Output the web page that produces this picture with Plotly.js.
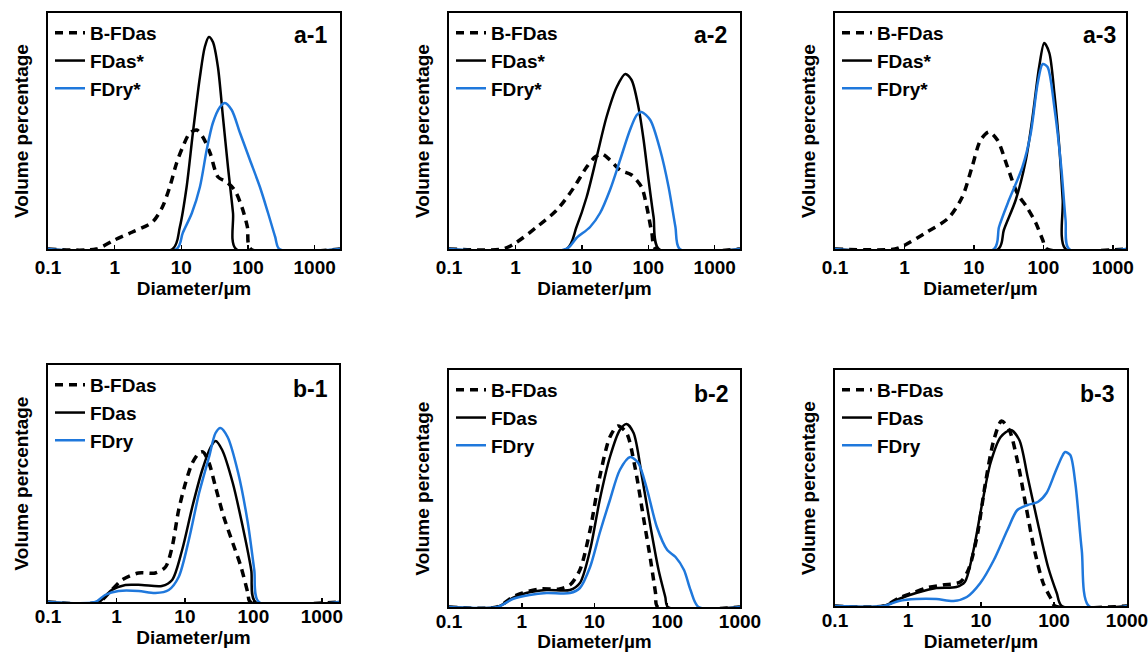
<!DOCTYPE html>
<html><head><meta charset="utf-8">
<script src="https://cdn.plot.ly/plotly-3.0.1.min.js"></script>
<style>html,body{margin:0;padding:0;background:#fff;} #chart{width:1148px;height:652px;}</style>
</head><body><div id="chart"></div>
<script>
// ---------- labels ----------
const namesA = ['B-FDas', 'FDas*', 'FDry*'];
const namesB = ['B-FDas', 'FDas', 'FDry'];
const panelLabels = ['a-1', 'a-2', 'a-3', 'b-1', 'b-2', 'b-3'];
const tickVals = [0.1, 1, 10, 100, 1000];
const tickText = ['0.1', '1', '10', '100', '1000'];
const xTitle = 'Diameter/\u00b5m';
const yTitle = 'Volume percentage';

// ---------- a-1 ----------
const a1_BFDas_d = [0.1, 0.53, 0.99, 1.85, 3.7, 5.2, 6.7, 8.5, 10.5, 13.4, 17, 21, 27, 35.5, 48, 63, 81, 98, 110, 2400];
const a1_BFDas_v = [0, 0, 0.45, 0.85, 1.35, 2.1, 3.1, 4.3, 5.1, 5.8, 5.95, 5.6, 4.8, 3.6, 3.35, 2.95, 2.1, 1.1, 0, 0];
const a1_FDas_d = [0.1, 7.4, 9.5, 12.0, 14.9, 19.0, 22.5, 25.9, 29.8, 35.4, 42.1, 50.1, 59.6, 66.1, 2400];
const a1_FDas_v = [0, 0, 1.1, 3.1, 5.8, 8.6, 10.1, 10.6, 10.35, 9.1, 6.6, 4.1, 1.8, 0, 0];
const a1_FDry_d = [0.1, 8.5, 10.5, 14.4, 19, 24, 29.7, 38, 45, 57, 76, 107, 151, 200, 256, 295, 2400];
const a1_FDry_v = [0, 0, 0.8, 1.8, 3.1, 4.95, 6.3, 7.1, 7.3, 6.95, 5.8, 4.45, 3.1, 1.8, 0.6, 0, 0];

// ---------- a-2 ----------
const a2_BFDas_d = [0.1, 0.64, 1.0, 2.1, 4.2, 7.5, 11.8, 15.8, 20, 26.5, 37.6, 56, 79, 95, 113, 130, 2400];
const a2_BFDas_v = [0, 0, 0.3, 1.1, 1.95, 3.05, 4.1, 4.6, 4.75, 4.45, 3.95, 3.7, 3.1, 2.1, 0.8, 0, 0];
const a2_FDas_d = [0.1, 5.9, 8.3, 11.8, 16.7, 23.5, 33.5, 45, 56, 71, 85, 101, 120, 144, 2400];
const a2_FDas_v = [0, 0, 1.1, 2.6, 4.6, 6.6, 8.1, 8.75, 8.45, 7.1, 5.45, 3.45, 1.6, 0, 0];
const a2_FDry_d = [0.1, 5.8, 8.3, 13.3, 18.8, 26.5, 37.6, 53, 67, 79, 107, 151, 202, 256, 297, 2400];
const a2_FDry_v = [0, 0, 0.55, 1.1, 1.8, 2.95, 4.45, 5.95, 6.7, 6.85, 6.45, 4.95, 3.1, 1.1, 0, 0];

// ---------- a-3 ----------
const a3_BFDas_d = [0.1, 0.73, 1.02, 2.0, 4.3, 6.8, 9.4, 12.5, 16.5, 21.8, 30.5, 42, 59, 78, 98, 112, 1550];
const a3_BFDas_v = [0, 0, 0.2, 0.8, 1.55, 2.6, 4.1, 5.45, 5.85, 5.45, 4.1, 2.8, 2.05, 1.3, 0.45, 0, 0];
const a3_FDas_d = [0.1, 22.5, 27, 40, 56, 70, 87, 103, 122, 144, 171, 190, 209, 1550];
const a3_FDas_v = [0, 0, 0.95, 2.45, 4.45, 6.6, 9.1, 10.3, 9.8, 7.8, 4.95, 2.45, 0, 0];
const a3_FDry_d = [0.1, 19.5, 23, 32, 50, 66, 83, 98, 115, 144, 181, 209, 234, 1550];
const a3_FDry_v = [0, 0, 1.1, 2.45, 4.1, 5.8, 8.3, 9.25, 9.1, 7.1, 4.1, 1.45, 0, 0];

// ---------- b-1 ----------
const b1_BFDas_d = [0.1, 0.55, 0.85, 1.2, 2.1, 3.7, 5.2, 6.5, 8.1, 10.2, 12.8, 16.1, 18.4, 22.5, 28, 37, 50, 66, 83, 90, 1780];
const b1_BFDas_v = [0, 0, 0.6, 1.1, 1.45, 1.45, 1.75, 2.75, 4.6, 5.95, 6.95, 7.45, 7.5, 6.95, 5.75, 4.25, 2.95, 1.75, 0.45, 0, 0];
const b1_FDas_d = [0.1, 0.55, 0.85, 1.35, 2.35, 4.6, 6.5, 9.1, 12.8, 17.9, 23.8, 28, 35, 50, 70, 93, 107, 1780];
const b1_FDas_v = [0, 0, 0.6, 0.85, 0.85, 0.8, 1.1, 2.6, 4.75, 6.6, 7.75, 8.05, 7.6, 5.95, 3.75, 1.6, 0, 0];
const b1_FDry_d = [0.1, 0.49, 0.68, 1.07, 2.1, 3.7, 5.8, 8.1, 11.4, 16.1, 22.5, 28, 33, 42, 60, 83, 103, 120, 1780];
const b1_FDry_v = [0, 0, 0.35, 0.55, 0.55, 0.45, 0.6, 1.25, 3.1, 5.45, 7.25, 8.45, 8.7, 8.25, 6.45, 3.95, 1.6, 0, 0];

// ---------- b-2 ----------
const b2_BFDas_d = [0.1, 0.46, 0.75, 1.03, 1.76, 3.3, 4.6, 6.3, 8.7, 11.8, 16.3, 21, 27.6, 36, 47, 59, 69, 74, 1000];
const b2_BFDas_v = [0, 0, 0.5, 0.7, 0.9, 0.9, 1.1, 1.85, 3.85, 6.5, 8.5, 9.05, 8.7, 7.0, 4.5, 2.35, 0.7, 0, 0];
const b2_FDas_d = [0.1, 0.46, 0.75, 1.15, 2.2, 4.6, 6.3, 8.7, 11.8, 16.3, 22.3, 27.6, 34.5, 45, 59, 76, 94, 102, 1000];
const b2_FDas_v = [0, 0, 0.45, 0.7, 0.85, 0.85, 1.2, 2.85, 5.35, 7.5, 8.85, 9.15, 8.7, 6.5, 4.0, 1.85, 0.5, 0, 0];
const b2_FDry_d = [0.1, 0.46, 0.75, 1.28, 2.2, 4.6, 6.3, 8.7, 11.8, 16.3, 22.3, 31, 40, 53, 72, 100, 130, 170, 209, 270, 1000];
const b2_FDry_v = [0, 0, 0.4, 0.6, 0.7, 0.7, 0.95, 2.0, 3.7, 5.35, 6.85, 7.5, 7.2, 5.85, 4.0, 2.85, 2.5, 1.85, 0.85, 0, 0];

// ---------- b-3 ----------
const b3_BFDas_d = [0.1, 0.46, 0.75, 1.15, 1.77, 3.0, 5.2, 6.7, 8.8, 11.5, 15, 19.1, 24.4, 32, 41.5, 54, 71, 93, 103, 1000];
const b3_BFDas_v = [0, 0, 0.4, 0.65, 0.9, 1.05, 1.2, 1.8, 3.45, 6.15, 8.3, 9.25, 8.8, 7.15, 4.95, 2.8, 1.15, 0.3, 0, 0];
const b3_FDas_d = [0.1, 0.46, 0.75, 1.29, 2.45, 4.6, 6.0, 7.9, 10.4, 13.5, 18.6, 25.6, 33.5, 43.6, 60, 83, 109, 128, 1000];
const b3_FDas_v = [0, 0, 0.35, 0.65, 0.9, 0.95, 1.2, 2.8, 5.15, 7.15, 8.45, 8.8, 8.3, 6.45, 4.15, 1.95, 0.65, 0, 0];
const b3_FDry_d = [0.1, 0.46, 0.75, 1.29, 2.45, 4.2, 6.4, 9.8, 15, 23, 31.5, 43.6, 60, 79, 103, 128, 142, 167, 196, 240, 300, 1000];
const b3_FDry_v = [0, 0, 0.25, 0.35, 0.35, 0.25, 0.45, 1.15, 2.3, 3.8, 4.8, 5.05, 5.2, 5.65, 6.65, 7.45, 7.7, 7.55, 6.15, 2.8, 0, 0];

// ---------- panel geometry (pixels) ----------
const W = 1148, H = 652;
const panels = [
  {box: [48, 340, 13, 249],   xr: [0.1, 2400], ymax: 11.8,  row: 0, names: namesA, data: [[a1_BFDas_d, a1_BFDas_v], [a1_FDas_d, a1_FDas_v], [a1_FDry_d, a1_FDry_v]], lab: [0.962, 0.907]},
  {box: [449, 740, 13, 249],  xr: [0.1, 2400], ymax: 11.8,  row: 0, names: namesA, data: [[a2_BFDas_d, a2_BFDas_v], [a2_FDas_d, a2_FDas_v], [a2_FDry_d, a2_FDry_v]], lab: [0.962, 0.907]},
  {box: [835, 1126, 13, 249], xr: [0.1, 1550], ymax: 11.8,  row: 0, names: namesA, data: [[a3_BFDas_d, a3_BFDas_v], [a3_FDas_d, a3_FDas_v], [a3_FDry_d, a3_FDry_v]], lab: [0.973, 0.907]},
  {box: [48, 339, 365, 602],  xr: [0.1, 1780], ymax: 11.85, row: 1, names: namesB, data: [[b1_BFDas_d, b1_BFDas_v], [b1_FDas_d, b1_FDas_v], [b1_FDry_d, b1_FDry_v]], lab: [0.969, 0.90]},
  {box: [449, 740, 370, 607], xr: [0.1, 1000.5], ymax: 11.85, row: 1, names: namesB, data: [[b2_BFDas_d, b2_BFDas_v], [b2_FDas_d, b2_FDas_v], [b2_FDry_d, b2_FDry_v]], lab: [0.969, 0.90]},
  {box: [835, 1127, 370, 606], xr: [0.1, 1000.5], ymax: 11.8, row: 1, names: namesB, data: [[b3_BFDas_d, b3_BFDas_v], [b3_FDas_d, b3_FDas_v], [b3_FDry_d, b3_FDry_v]], lab: [0.966, 0.90]}
];

const FONT = 'Liberation Sans, Arial, sans-serif';
const BLUE = '#1f78dc';
const styles = [
  {color: '#000000', width: 3.5, dash: '8px,6px'},
  {color: '#000000', width: 2.5, dash: 'solid'},
  {color: BLUE, width: 2.5, dash: 'solid'}
];

const traces = [];
const layout = {
  width: W, height: H,
  margin: {l: 0, r: 0, t: 0, b: 0},
  paper_bgcolor: '#ffffff', plot_bgcolor: '#ffffff',
  font: {family: FONT, size: 19, color: '#000', weight: 'bold'},
  showlegend: true,
  annotations: []
};

panels.forEach((p, i) => {
  const k = i + 1;
  const xa = 'xaxis' + (k === 1 ? '' : k), ya = 'yaxis' + (k === 1 ? '' : k);
  const xr = 'x' + (k === 1 ? '' : k), yr = 'y' + (k === 1 ? '' : k);
  const lg = 'legend' + (k === 1 ? '' : k);
  const [x0, x1, y0, y1] = p.box;
  layout[xa] = {
    type: 'log', domain: [x0 / W, x1 / W], anchor: yr,
    range: [Math.log10(p.xr[0]), Math.log10(p.xr[1])],
    tickvals: tickVals, ticktext: tickText,
    ticks: 'inside', ticklen: 4, tickwidth: 1.5, tickcolor: '#000',
    ticklabeloverflow: 'allow',
    ticklabelstandoff: p.row === 0 ? 0 : -4,
    showline: true, linewidth: 2, linecolor: '#000', mirror: true,
    showgrid: false, zeroline: false,
    tickfont: {family: FONT, size: 19, color: '#000', weight: 'bold'},
    title: {text: xTitle, font: {family: FONT, size: 19, color: '#000', weight: 'bold'}, standoff: p.row === 0 ? 4 : 3},
    automargin: false
  };
  layout[ya] = {
    domain: [1 - y1 / H, 1 - y0 / H], anchor: xr,
    range: [0, p.ymax],
    showticklabels: false, ticks: '',
    showline: true, linewidth: 2, linecolor: '#000', mirror: true,
    showgrid: false, zeroline: false,
    title: {text: yTitle, font: {family: FONT, size: 19, color: '#000', weight: 'bold'}, standoff: 12},
    automargin: false
  };
  layout[lg] = {
    x: (x0 + 2) / W, y: 1 - (y0 + 1) / H, xanchor: 'left', yanchor: 'top',
    xref: 'paper', yref: 'paper',
    bgcolor: 'rgba(0,0,0,0)', borderwidth: 0,
    font: {family: FONT, size: 19, color: '#000', weight: 'bold'},
    tracegroupgap: 0, itemwidth: 30, traceorder: 'normal'
  };
  p.data.forEach((s, j) => {
    traces.push({
      type: 'scatter', mode: 'lines',
      x: s[0], y: s[1], name: p.names[j],
      xaxis: xr, yaxis: yr, legend: lg,
      line: {color: styles[j].color, width: styles[j].width, dash: styles[j].dash, shape: 'spline', smoothing: 0.8},
      hoverinfo: 'skip'
    });
  });
  layout.annotations.push({
    text: panelLabels[i], xref: xr + ' domain', yref: yr + ' domain',
    x: p.lab[0], y: p.lab[1], xanchor: 'right', yanchor: 'middle',
    showarrow: false, font: {family: FONT, size: 23, color: '#000', weight: 'bold'}
  });
});

Plotly.newPlot('chart', traces, layout, {displayModeBar: false, staticPlot: true});
</script>
</body></html>
